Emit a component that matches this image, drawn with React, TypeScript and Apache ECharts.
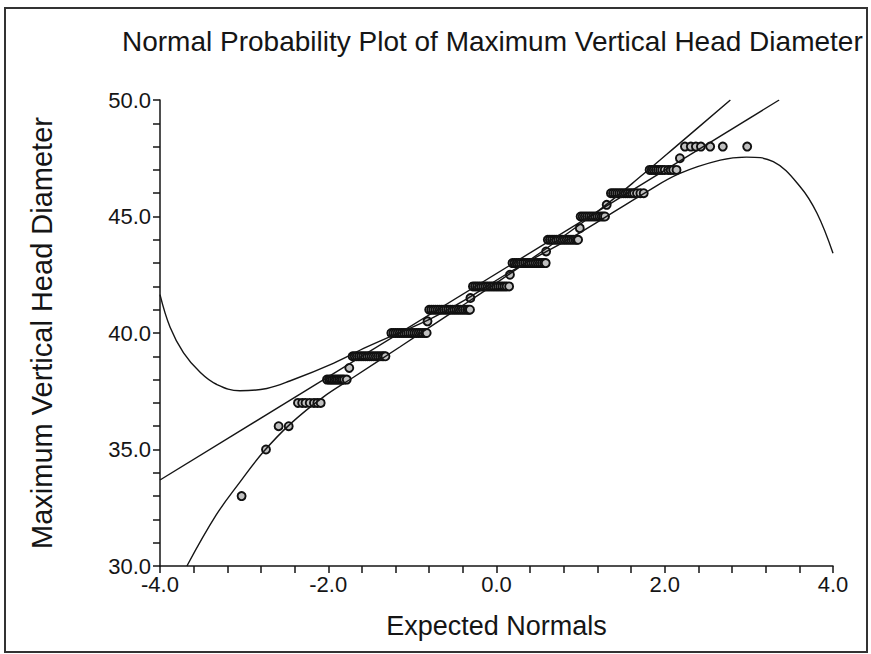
import React, { useEffect, useRef } from 'react';
import * as echarts from 'echarts';

// ---- tick labels ----
const xTickValues = [-4, -2, 0, 2, 4];
const xTickLabels = ['-4.0', '-2.0', '0.0', '2.0', '4.0'];
const yTickValues = [30, 35, 40, 45, 50];
const yTickLabels = ['30.0', '35.0', '40.0', '45.0', '50.0'];

// ---- observed values (y) with their expected normals (x) ----
const x33 = [-3.03];
const x35 = [-2.74];
const x36 = [-2.59, -2.47];
const x37 = [-2.36, -2.31, -2.27, -2.22, -2.17, -2.13, -2.09];
const x38 = [-2.015, -1.99, -1.97, -1.95, -1.93, -1.91, -1.89, -1.87, -1.85, -1.83, -1.81, -1.78];
const x38h = [-1.75];
const x39 = [-1.71, -1.685, -1.66, -1.635, -1.61, -1.585, -1.56, -1.535, -1.51, -1.485, -1.46, -1.435, -1.41, -1.385, -1.36, -1.34, -1.32];
const x40 = [-1.25, -1.225, -1.2, -1.175, -1.15, -1.125, -1.1, -1.075, -1.05, -1.025, -1.0, -0.975, -0.95, -0.925, -0.9, -0.875, -0.85, -0.83];
const x40h = [-0.82];
const x41 = [-0.8, -0.775, -0.75, -0.725, -0.7, -0.675, -0.65, -0.625, -0.6, -0.575, -0.55, -0.525, -0.5, -0.475, -0.45, -0.425, -0.4, -0.375, -0.35, -0.33, -0.315];
const x41h = [-0.31];
const x42 = [-0.28, -0.255, -0.23, -0.205, -0.18, -0.155, -0.13, -0.105, -0.08, -0.055, -0.03, -0.005, 0.02, 0.045, 0.07, 0.095, 0.12, 0.15];
const x42h = [0.16];
const x43 = [0.19, 0.215, 0.24, 0.265, 0.29, 0.315, 0.34, 0.365, 0.39, 0.415, 0.44, 0.465, 0.49, 0.515, 0.54, 0.565, 0.585];
const x43h = [0.59];
const x44 = [0.61, 0.635, 0.66, 0.685, 0.71, 0.735, 0.76, 0.785, 0.81, 0.835, 0.86, 0.885, 0.91, 0.935, 0.955, 0.97];
const x44h = [0.99];
const x45 = [1.0, 1.025, 1.05, 1.075, 1.1, 1.125, 1.15, 1.175, 1.2, 1.225, 1.25, 1.27, 1.29];
const x45h = [1.31];
const x46 = [1.36, 1.385, 1.41, 1.435, 1.46, 1.485, 1.51, 1.535, 1.56, 1.585, 1.61, 1.635, 1.67, 1.71, 1.75];
const x47 = [1.82, 1.845, 1.87, 1.895, 1.92, 1.945, 1.97, 2.0, 2.04, 2.07, 2.1, 2.14];
const x47h = [2.18];
const x48 = [2.24, 2.31, 2.37, 2.43, 2.54, 2.69, 2.98];

const observedRows: [number, number[]][] = [
  [33, x33], [35, x35], [36, x36], [37, x37], [38, x38], [38.5, x38h],
  [39, x39], [40, x40], [40.5, x40h], [41, x41], [41.5, x41h], [42, x42],
  [42.5, x42h], [43, x43], [43.5, x43h], [44, x44], [44.5, x44h], [45, x45],
  [45.5, x45h], [46, x46], [47, x47], [47.5, x47h], [48, x48],
];

// ---- fitted lines / curves ----
const refLineX = [-4.0, 3.36];
const refLineY = [33.69, 50.0];

const steepCurveX = [-3.68, -3.33, -3.05, -2.77, -2.45, -2.06, -1.7, -1.15, -0.5, 0.0, 0.6, 1.23, 1.74, 2.18, 2.78];
const steepCurveY = [30.0, 32.2, 33.6, 34.9, 36.1, 37.25, 38.1, 39.4, 40.95, 42.15, 43.65, 45.3, 46.8, 48.15, 50.0];

const waveCurveX = [-4.0, -3.88, -3.72, -3.52, -3.33, -3.05, -2.73, -2.45, -1.94, -1.54, -0.79, -0.43, 0.2, 0.99, 1.78, 2.18, 2.66, 2.97, 3.29, 3.61, 3.81, 4.0];
const waveCurveY = [41.65, 40.25, 39.15, 38.3, 37.8, 37.52, 37.62, 37.95, 38.7, 39.4, 40.6, 41.3, 42.7, 44.3, 46.05, 46.85, 47.42, 47.55, 47.35, 46.28, 45.14, 43.42];

const FONT = "'Liberation Sans', Arial, Helvetica, sans-serif";
const INK = '#151515';

function pairs(xs: number[], ys: number[]) {
  return xs.map((x, i) => [x, ys[i]]);
}

function buildOption() {
  const scatterData: number[][] = [];
  observedRows.forEach(([y, xs]) => xs.forEach((x) => scatterData.push([x, y])));

  const lineStyle = { color: INK, width: 1.4 };

  return {
    animation: false,
    backgroundColor: '#ffffff',
    title: {
      text: 'Normal Probability Plot of Maximum Vertical Head Diameter',
      left: 122,
      top: 27,
      padding: 0,
      textStyle: { fontFamily: FONT, fontSize: 28, fontWeight: 'normal', color: INK },
    },
    graphic: [
      {
        type: 'rect',
        silent: true,
        shape: { x: 5, y: 8, width: 862, height: 644 },
        style: { fill: 'none', stroke: '#333', lineWidth: 2 },
      },
    ],
    grid: { left: 160, right: 38, top: 100, bottom: 88 },
    xAxis: {
      type: 'value',
      min: -4,
      max: 4,
      interval: 2,
      name: 'Expected Normals',
      nameLocation: 'middle',
      nameGap: 46,
      nameTextStyle: { fontFamily: FONT, fontSize: 27, color: INK },
      axisLine: { show: true, onZero: false, lineStyle: { color: INK, width: 1.5 } },
      axisTick: { show: true, length: 7, lineStyle: { color: INK, width: 1.5 } },
      minorTick: { show: true, splitNumber: 5, length: 7, lineStyle: { color: INK, width: 1.5 } },
      splitLine: { show: false },
      minorSplitLine: { show: false },
      axisLabel: {
        fontFamily: FONT,
        fontSize: 22,
        color: INK,
        margin: 7,
        formatter: (v: number) => {
          const i = xTickValues.indexOf(Math.round(v * 100) / 100);
          return i >= 0 ? xTickLabels[i] : '';
        },
      },
    },
    yAxis: {
      type: 'value',
      min: 30,
      max: 50,
      interval: 5,
      name: 'Maximum Vertical Head Diameter',
      nameLocation: 'middle',
      nameGap: 104,
      nameTextStyle: { fontFamily: FONT, fontSize: 29, color: INK },
      axisLine: { show: true, onZero: false, lineStyle: { color: INK, width: 1.5 } },
      axisTick: { show: true, length: 7, lineStyle: { color: INK, width: 1.5 } },
      minorTick: { show: true, splitNumber: 5, length: 7, lineStyle: { color: INK, width: 1.5 } },
      splitLine: { show: false },
      minorSplitLine: { show: false },
      axisLabel: {
        fontFamily: FONT,
        fontSize: 22,
        color: INK,
        margin: 9,
        formatter: (v: number) => {
          const i = yTickValues.indexOf(Math.round(v * 100) / 100);
          return i >= 0 ? yTickLabels[i] : '';
        },
      },
    },
    series: [
      {
        type: 'line',
        data: pairs(refLineX, refLineY),
        showSymbol: false,
        lineStyle,
        silent: true,
        clip: true,
      },
      {
        type: 'line',
        data: pairs(steepCurveX, steepCurveY),
        showSymbol: false,
        smooth: 0.4,
        lineStyle,
        silent: true,
        clip: true,
      },
      {
        type: 'line',
        data: pairs(waveCurveX, waveCurveY),
        showSymbol: false,
        smooth: 0.4,
        lineStyle,
        silent: true,
        clip: true,
      },
      {
        type: 'scatter',
        data: scatterData,
        symbol: 'circle',
        symbolSize: 8,
        itemStyle: { color: '#c0c0c0', borderColor: '#101010', borderWidth: 1.9, opacity: 1 },
        silent: true,
      },
    ],
  };
}

export default function App() {
  const ref = useRef<HTMLDivElement>(null);
  useEffect(() => {
    document.body.style.margin = '0';
    const chart = echarts.init(ref.current as HTMLDivElement, null, { renderer: 'svg' });
    chart.setOption(buildOption() as any);
    return () => chart.dispose();
  }, []);
  return <div ref={ref} style={{ width: 871, height: 654 }} />;
}
